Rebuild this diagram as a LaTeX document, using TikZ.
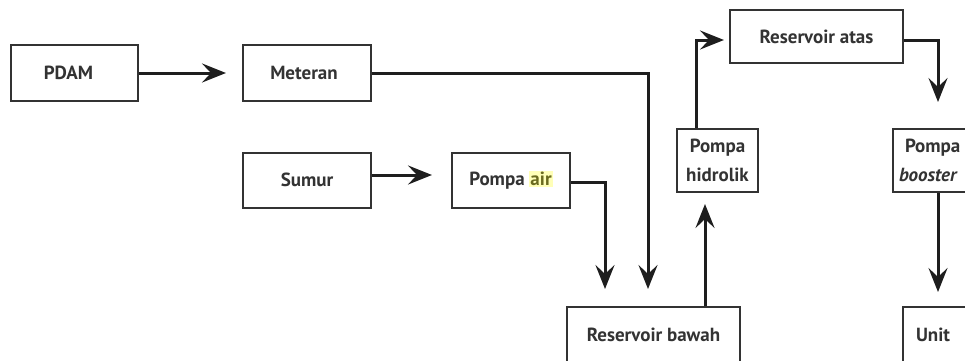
\documentclass[tikz,border=0pt]{standalone}
\usepackage{fontspec}
\setmainfont{PT Sans}
\usetikzlibrary{arrows.meta,calc}
\definecolor{boxline}{HTML}{333333}
\definecolor{txt}{HTML}{333333}
\definecolor{arrowc}{HTML}{1E1E1E}
\definecolor{hl}{rgb}{1,1,0.72}
\definecolor{hltxt}{rgb}{0.42,0.42,0.12}
\tikzset{
  flowbox/.style={draw=boxline, line width=2pt, fill=white, rectangle, inner sep=0pt,
    font=\fontsize{19}{29}\selectfont\bfseries, text=txt, align=center},
  arr/.style={draw=arrowc, line width=3pt,
    -{Stealth[length=24pt,width=19pt,inset=9pt]}},
}
\begin{document}
\begin{tikzpicture}[x=1pt,y=-1pt]
\useasboundingbox (0,0) rectangle (965,360);
\clip (0,0) rectangle (965,360);
\fill[white] (0,0) rectangle (965,360);
\node[flowbox, minimum width=127pt, minimum height=56pt] (pdam) at (74.5,73) {PDAM\hspace*{12pt}};
\node[flowbox, minimum width=128pt, minimum height=56pt] (meteran) at (307,73) {Meteran\hspace*{6pt}};
\node[flowbox, minimum width=128pt, minimum height=55pt] (sumur) at (307,180) {Sumur};
\node[flowbox, minimum width=118pt, minimum height=55pt] (pompaair) at (511,180)
  {Pompa {\setlength{\fboxsep}{1pt}\colorbox{hl}{\textcolor{hltxt}{air}}}};
\node[flowbox, minimum width=173pt, minimum height=56pt] (resbawah) at (653.5,335) {Reservoir bawah};
\node[flowbox, minimum width=81pt, minimum height=63pt] (hidrolik) at (717.5,160.5) {Pompa\\hidrolik};
\node[flowbox, minimum width=173pt, minimum height=53pt] (resatas) at (816.5,36.5) {Reservoir atas};
\node[flowbox, minimum width=90pt, minimum height=63pt, anchor=west, align=left,
  text width=78pt, inner xsep=6pt] (booster) at (892,160.5) {\hbox{\hspace{6pt}Pompa}\\\textit{booster}};
\node[flowbox, minimum height=56pt, anchor=west, align=left,
  text width=64pt, inner xsep=13pt] (unit) at (902,335) {Unit};

\draw[arr, shorten >=16pt] (pdam.east) -- (meteran.west);
\draw[arr, shorten >=19pt] ([yshift=5pt]sumur.east) -- ([yshift=5pt]pompaair.west);
\draw[arr, shorten >=17pt] (meteran.east) -| ([xshift=-5.5pt]resbawah.north);
\draw[arr, shorten >=17pt] ([yshift=-2pt]pompaair.east) -| ([xshift=-48.5pt]resbawah.north);
\draw[arr, shorten >=11pt] ([xshift=51.5pt]resbawah.north) -- ([xshift=-12.5pt]hidrolik.south);
\draw[arr, shorten >=5pt] ([xshift=-21.5pt]hidrolik.north) |- ([yshift=-3.5pt]resatas.west);
\draw[arr, shorten >=26pt] ([yshift=-3.5pt]resatas.east) -| (booster.north);
\draw[arr, shorten >=14pt] (booster.south) -- (booster.south |- unit.north);
\end{tikzpicture}
\end{document}
